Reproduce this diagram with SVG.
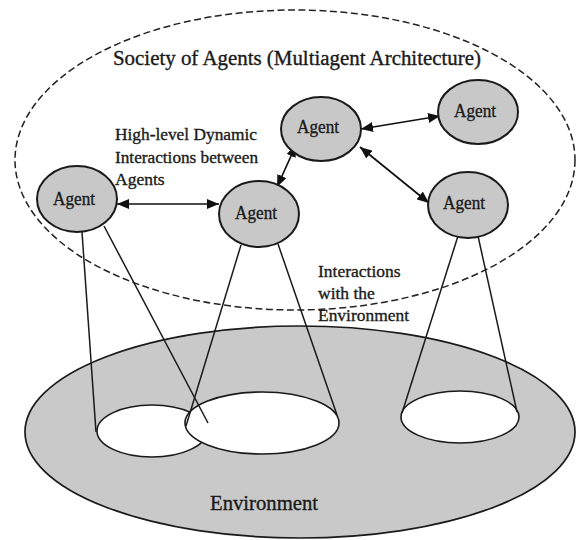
<svg xmlns="http://www.w3.org/2000/svg" width="576" height="540" viewBox="0 0 576 540">
  <style>
    .txt { font-family: "Liberation Serif", "Times New Roman", serif; fill: #1a1a1a; stroke: #1a1a1a; stroke-width: 0.35; }
    .agent ellipse { fill: #c8c8c8; stroke: #1a1a1a; stroke-width: 2; }
    .agent text { font-size: 19px; text-anchor: middle; }
    .hole { fill: #ffffff; stroke: #1a1a1a; stroke-width: 1.6; }
    .cone { stroke: #1a1a1a; stroke-width: 1.5; fill: none; }
    .link { stroke: #111; stroke-width: 1.7; fill: none; marker-start: url(#head); marker-end: url(#head); }
  </style>
  <defs>
    <marker id="head" viewBox="0 0 12 10" refX="12" refY="5" markerWidth="12" markerHeight="10" markerUnits="userSpaceOnUse" orient="auto-start-reverse">
      <path d="M0,0 L12,5 L0,10 Z" fill="#111"/>
    </marker>
  </defs>

  <rect width="576" height="540" fill="#ffffff"/>

  <!-- Society boundary -->
  <g id="society">
    <ellipse cx="295" cy="160" rx="280" ry="150" fill="none" stroke="#222" stroke-width="1.5" stroke-dasharray="7 3.5"/>
    <text class="txt" x="113" y="65" font-size="20.5" textLength="368" lengthAdjust="spacingAndGlyphs">Society of Agents (Multiagent Architecture)</text>
  </g>

  <!-- Environment with the regions each agent perceives -->
  <g id="environment">
    <ellipse cx="300" cy="432" rx="275" ry="106" fill="#c9c9c9" stroke="#1a1a1a" stroke-width="1.7"/>
    <ellipse class="hole" cx="152" cy="431" rx="55" ry="26"/>
    <ellipse class="hole" cx="262" cy="423" rx="77" ry="31"/>
    <ellipse class="hole" cx="460" cy="417" rx="59" ry="26"/>
    <text class="txt" x="210" y="510" font-size="21" textLength="108" lengthAdjust="spacingAndGlyphs">Environment</text>
  </g>

  <!-- Perception cones and agent interactions -->
  <g id="connectors">
    <line class="cone" x1="82" y1="232" x2="96" y2="432"/>
    <line class="cone" x1="104" y1="226" x2="208" y2="423"/>
    <line class="cone" x1="241" y1="245" x2="186" y2="426"/>
    <line class="cone" x1="278" y1="244" x2="337" y2="415"/>
    <line class="cone" x1="458" y1="236" x2="402" y2="413"/>
    <line class="cone" x1="478" y1="236" x2="517" y2="412"/>

    <line class="link" x1="117" y1="204" x2="219" y2="204"/>
    <line class="link" x1="277" y1="187" x2="296" y2="145"/>
    <line class="link" x1="361" y1="129" x2="440" y2="116"/>
    <line class="link" x1="360" y1="147" x2="429" y2="203"/>
  </g>

  <g id="labels" class="txt" font-size="17.5">
    <text x="115" y="140" textLength="142" lengthAdjust="spacingAndGlyphs">High-level Dynamic</text>
    <text x="115" y="163" textLength="143" lengthAdjust="spacingAndGlyphs">Interactions between</text>
    <text x="115" y="185">Agents</text>
    <text x="318" y="277">Interactions</text>
    <text x="318" y="299">with the</text>
    <text x="318" y="321" textLength="91" lengthAdjust="spacingAndGlyphs">Environment</text>
  </g>

  <g id="agent-left" class="agent">
    <ellipse cx="77" cy="199" rx="40" ry="33"/>
    <text class="txt" x="74" y="205" textLength="42" lengthAdjust="spacingAndGlyphs">Agent</text>
  </g>
  <g id="agent-middle" class="agent">
    <ellipse cx="259" cy="214" rx="40" ry="33"/>
    <text class="txt" x="256" y="219" textLength="42" lengthAdjust="spacingAndGlyphs">Agent</text>
  </g>
  <g id="agent-top" class="agent">
    <ellipse cx="321" cy="129" rx="40" ry="32"/>
    <text class="txt" x="318" y="133" textLength="42" lengthAdjust="spacingAndGlyphs">Agent</text>
  </g>
  <g id="agent-top-right" class="agent">
    <ellipse cx="478" cy="112" rx="40" ry="32"/>
    <text class="txt" x="475" y="117" textLength="42" lengthAdjust="spacingAndGlyphs">Agent</text>
  </g>
  <g id="agent-right" class="agent">
    <ellipse cx="468" cy="205" rx="40" ry="33"/>
    <text class="txt" x="464" y="209" textLength="42" lengthAdjust="spacingAndGlyphs">Agent</text>
  </g>
</svg>
